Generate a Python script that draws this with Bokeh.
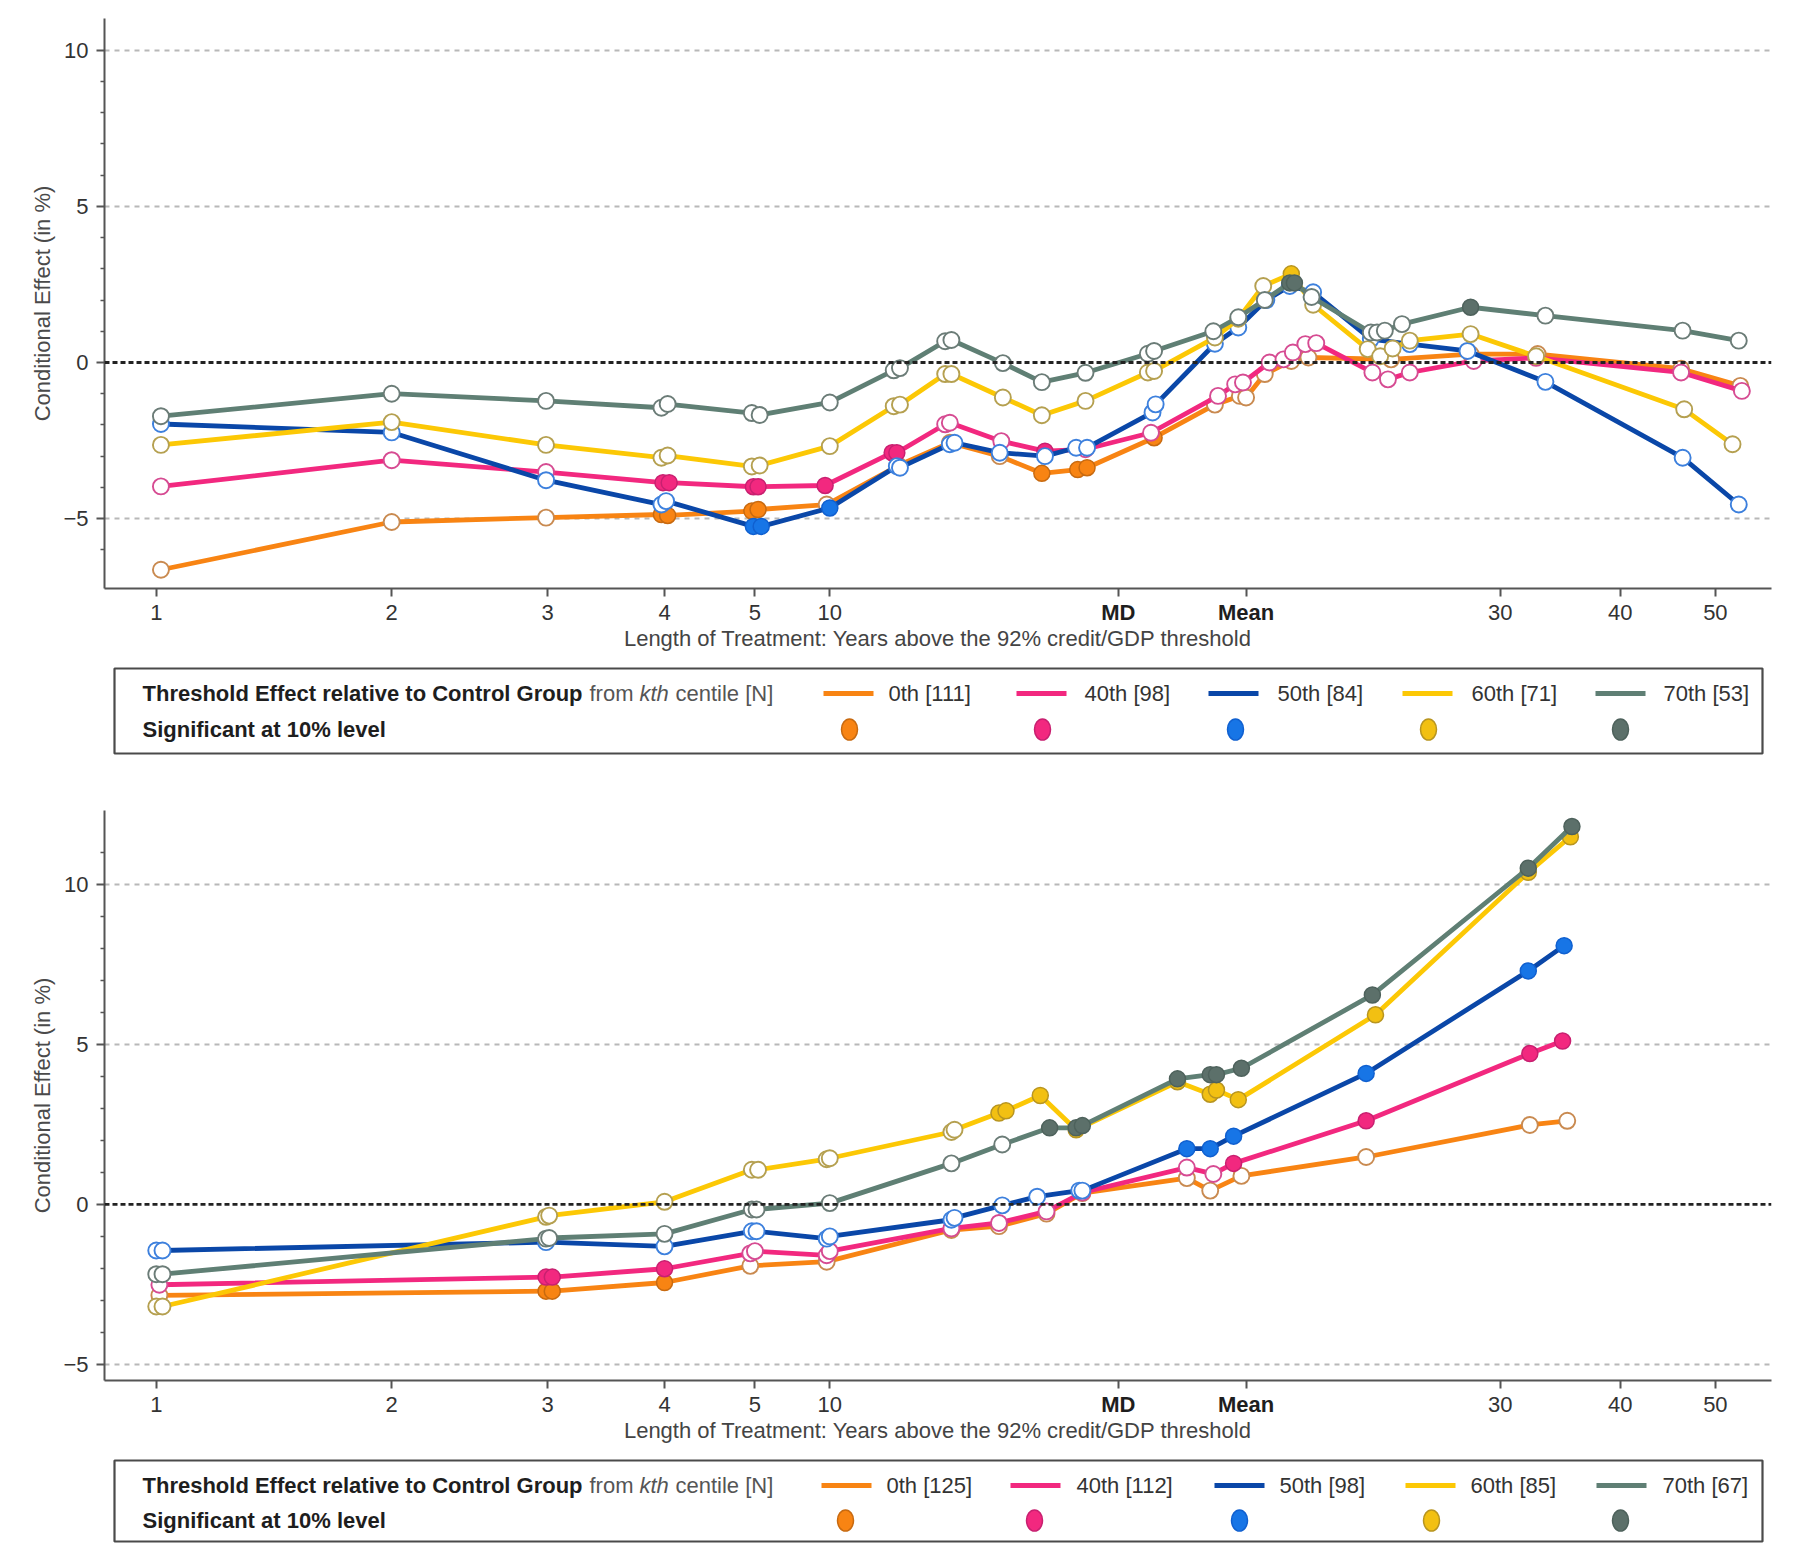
from bokeh.plotting import figure
from bokeh.models import Range1d, FixedTicker, Span
from bokeh.layouts import column
from bokeh.embed import file_html
from bokeh.resources import INLINE
from bokeh.core.properties import value

FONT = "Liberation Sans"

# ---------------- data ----------------
# x = position on the chart's own (non-linear) treatment-length axis, 0..100
TICK_POS = [0, 15.1, 25.1, 32.6, 38.4, 43.2, 61.7, 69.9, 86.2, 93.9, 100]
TICK_LABELS = ["1", "2", "3", "4", "5", "10", "MD", "Mean", "30", "40", "50"]
BOLD_TICKS = ["MD", "Mean"]
X_TITLE = "Length of Treatment: Years above the 92% credit/GDP threshold"
Y_TITLE = "Conditional Effect (in %)"

SERIES = ["0th", "40th", "50th", "60th", "70th"]
TOP_N = [111, 98, 84, 71, 53]
BOT_N = [125, 112, 98, 85, 67]

# ---- top panel ----
T_X_0 = [0.3, 15.1, 25.0, 32.4, 32.8, 38.2, 38.6, 43.0, 47.6, 50.9, 54.1, 56.8, 59.1, 59.7, 64.0,
         67.9, 69.5, 69.9, 71.1, 72.8, 73.9, 79.2, 84.3, 88.6, 97.8, 101.6]
T_Y_0 = [-6.64, -5.11, -4.97, -4.87, -4.90, -4.76, -4.71, -4.55, -3.30, -2.57, -3.00, -3.55, -3.43, -3.37, -2.41,
         -1.35, -1.07, -1.12, -0.37, 0.05, 0.16, 0.10, 0.27, 0.27, -0.20, -0.75]
T_S_0 = [0, 0, 0, 1, 1, 1, 1, 0, 0, 0, 0, 1, 1, 1, 1, 0, 0, 0, 0, 0, 0, 0, 0, 0, 0, 0]

T_X_40 = [0.3, 15.1, 25.0, 32.5, 32.9, 38.3, 38.6, 42.9, 47.2, 47.5, 50.6, 50.9, 54.2, 57.0, 59.6, 63.8,
          68.1, 69.2, 69.7, 71.4, 72.3, 72.9, 73.7, 74.4, 78.0, 79.0, 80.4, 84.5, 88.5, 97.8, 101.7]
T_Y_40 = [-3.97, -3.13, -3.51, -3.85, -3.85, -3.98, -3.98, -3.94, -2.89, -2.89, -1.98, -1.93, -2.52, -2.84, -2.78, -2.25,
          -1.07, -0.70, -0.64, 0.00, 0.10, 0.32, 0.59, 0.62, -0.32, -0.54, -0.32, 0.05, 0.15, -0.32, -0.91]
T_S_40 = [0, 0, 0, 1, 1, 1, 1, 1, 1, 1, 0, 0, 0, 1, 0, 0,
          0, 0, 0, 0, 0, 0, 0, 0, 0, 0, 0, 0, 0, 0, 0]

T_X_50 = [0.3, 15.1, 25.0, 32.4, 32.7, 38.3, 38.8, 43.2, 47.5, 47.7, 50.9, 51.2, 54.1, 57.0, 59.0, 59.7, 63.9, 64.1,
          67.9, 69.4, 71.2, 72.7, 74.2, 77.9, 80.4, 84.1, 89.1, 97.9, 101.5]
T_Y_50 = [-1.97, -2.24, -3.77, -4.55, -4.44, -5.25, -5.25, -4.66, -3.32, -3.37, -2.62, -2.57, -2.89, -3.00, -2.73, -2.73,
          -1.60, -1.34, 0.60, 1.12, 2.00, 2.45, 2.25, 0.75, 0.59, 0.37, -0.62, -3.05, -4.55]
T_S_50 = [0, 0, 0, 0, 0, 1, 1, 1, 0, 0, 0, 0, 0, 0, 0, 0, 0, 0,
          0, 0, 0, 0, 0, 0, 0, 0, 0, 0, 0]

T_X_60 = [0.3, 15.1, 25.0, 32.4, 32.8, 38.2, 38.7, 43.2, 47.3, 47.7, 50.6, 51.0, 54.3, 56.8, 59.6, 63.6, 64.0,
          67.9, 69.4, 71.0, 72.8, 74.2, 77.7, 78.5, 79.3, 80.4, 84.3, 88.5, 98.0, 101.1]
T_Y_60 = [-2.64, -1.91, -2.64, -3.05, -2.98, -3.33, -3.30, -2.68, -1.40, -1.35, -0.37, -0.37, -1.12, -1.69, -1.23, -0.32, -0.27,
          0.80, 1.40, 2.45, 2.84, 1.85, 0.43, 0.20, 0.45, 0.70, 0.91, 0.20, -1.50, -2.62]
T_S_60 = [0, 0, 0, 0, 0, 0, 0, 0, 0, 0, 0, 0, 0, 0, 0, 0, 0,
          0, 0, 0, 1, 0, 0, 0, 0, 0, 0, 0, 0, 0]

T_X_70 = [0.3, 15.1, 25.0, 32.4, 32.8, 38.2, 38.7, 43.2, 47.3, 47.7, 50.6, 51.0, 54.3, 56.8, 59.6, 63.6, 64.0,
          67.8, 69.4, 71.1, 72.7, 73.0, 74.1, 77.9, 78.3, 78.8, 79.9, 84.3, 89.1, 97.9, 101.5]
T_Y_70 = [-1.72, -1.00, -1.23, -1.45, -1.33, -1.62, -1.68, -1.28, -0.25, -0.18, 0.68, 0.72, -0.02, -0.63, -0.33, 0.28, 0.37,
          1.00, 1.45, 2.00, 2.55, 2.55, 2.10, 0.96, 0.96, 1.02, 1.23, 1.77, 1.50, 1.02, 0.70]
T_S_70 = [0, 0, 0, 0, 0, 0, 0, 0, 0, 0, 0, 0, 0, 0, 0, 0, 0,
          0, 0, 0, 1, 1, 0, 0, 0, 0, 0, 1, 0, 0, 0]

# ---- bottom panel ----
B_X_0 = [0.2, 25.0, 25.4, 32.6, 38.1, 43.0, 51.0, 54.05, 57.1, 59.4, 66.1, 67.6, 69.6, 77.6, 88.1, 90.5]
B_Y_0 = [-2.84, -2.71, -2.71, -2.44, -1.92, -1.79, -0.80, -0.68, -0.29, 0.35, 0.82, 0.43, 0.89, 1.48, 2.48, 2.61]
B_S_0 = [0, 1, 1, 1, 0, 0, 0, 0, 0, 0, 0, 0, 0, 0, 0, 0]

B_X_40 = [0.2, 25.0, 25.4, 32.6, 38.1, 38.4, 43.0, 43.2, 51.0, 54.05, 57.1, 59.4, 66.1, 67.8, 69.1, 77.6, 88.1, 90.2]
B_Y_40 = [-2.51, -2.27, -2.27, -2.01, -1.53, -1.46, -1.59, -1.46, -0.75, -0.58, -0.22, 0.37, 1.15, 0.95, 1.28, 2.61, 4.71, 5.10]
B_S_40 = [0, 1, 1, 1, 0, 0, 0, 0, 0, 0, 0, 0, 0, 0, 1, 1, 1, 1]

B_X_50 = [0.0, 0.4, 25.0, 32.6, 38.2, 38.5, 43.0, 43.2, 51.0, 51.2, 54.26, 56.5, 59.2, 59.4, 66.1, 67.6, 69.1, 77.6, 88.0, 90.3]
B_Y_50 = [-1.44, -1.44, -1.18, -1.31, -0.84, -0.84, -1.07, -1.00, -0.48, -0.42, -0.03, 0.24, 0.43, 0.43, 1.74, 1.74, 2.13, 4.09, 7.29, 8.08]
B_S_50 = [0, 0, 0, 0, 0, 0, 0, 0, 0, 0, 0, 0, 0, 0, 1, 1, 1, 1, 1, 1]

B_X_60 = [0.0, 0.4, 25.0, 25.2, 32.6, 38.2, 38.6, 43.0, 43.2, 51.0, 51.2, 54.05, 54.5, 56.7, 59.0, 65.5, 67.6, 68.0, 69.4, 78.2, 88.0, 90.7]
B_Y_60 = [-3.19, -3.19, -0.39, -0.35, 0.08, 1.08, 1.08, 1.41, 1.44, 2.26, 2.33, 2.85, 2.92, 3.40, 2.33, 3.83, 3.44, 3.57, 3.27, 5.92, 10.37, 11.48]
B_S_60 = [0, 0, 0, 0, 0, 0, 0, 0, 0, 0, 0, 1, 1, 1, 1, 1, 1, 1, 1, 1, 1, 1]

B_X_70 = [0.0, 0.4, 25.0, 25.2, 32.6, 38.2, 38.5, 43.2, 51.0, 54.26, 57.3, 59.0, 59.4, 65.5, 67.6, 68.0, 69.6, 78.0, 88.0, 90.8]
B_Y_70 = [-2.18, -2.18, -1.07, -1.05, -0.92, -0.16, -0.16, 0.04, 1.28, 1.87, 2.39, 2.39, 2.46, 3.92, 4.05, 4.05, 4.25, 6.54, 10.50, 11.80]
B_S_70 = [0, 0, 0, 0, 0, 0, 0, 0, 0, 0, 1, 1, 1, 1, 1, 1, 1, 1, 1, 1]

TOP = [(T_X_0, T_Y_0, T_S_0), (T_X_40, T_Y_40, T_S_40), (T_X_50, T_Y_50, T_S_50),
       (T_X_60, T_Y_60, T_S_60), (T_X_70, T_Y_70, T_S_70)]
BOT = [(B_X_0, B_Y_0, B_S_0), (B_X_40, B_Y_40, B_S_40), (B_X_50, B_Y_50, B_S_50),
       (B_X_60, B_Y_60, B_S_60), (B_X_70, B_Y_70, B_S_70)]

# ---------------- styles ----------------
LINE_COL = ["#F88413", "#F2287F", "#0A47A8", "#FCC805", "#5F7F74"]
FILL_COL = ["#F88413", "#F2287F", "#1775E6", "#F2C012", "#5C706A"]
FILL_EDGE = ["#C86A10", "#C82070", "#1060D0", "#B89520", "#4E625C"]
HOLLOW_EDGE = ["#C98A50", "#D64B92", "#3D80DD", "#B5A050", "#6B7C77"]

BL, BR = 104, 10          # left / right borders (px)
FW = 1667                 # frame width (px)
FH = 570                  # plot frame height (px)
X0, X1 = -3.32, 103.6     # x range on the axis scale


def px2u(px):
    """layout helper: horizontal pixel inside a figure -> axis-scale coordinate"""
    return X0 + (px - BL) / FW * (X1 - X0)


def make_panel(data, y0, y1, top_border, minor):
    p = figure(frame_width=FW, frame_height=FH, output_backend="svg", toolbar_location=None,
               x_range=Range1d(X0, X1), y_range=Range1d(y0, y1),
               min_border_left=BL, min_border_right=BR,
               min_border_top=top_border, min_border_bottom=10)
    p.outline_line_color = None
    p.background_fill_color = "white"
    p.border_fill_color = "white"
    p.xgrid.visible = False
    p.ygrid.ticker = FixedTicker(ticks=[-5, 5, 10])
    p.ygrid.grid_line_color = "#B8B8B8"
    p.ygrid.grid_line_dash = "5 5"
    p.ygrid.grid_line_width = 2

    # x axis: the ticks are drawn here, their labels go in the strip below
    xa = p.xaxis[0]
    xa.ticker = FixedTicker(ticks=TICK_POS)
    xa.major_label_text_font_size = "0px"
    xa.major_label_text_alpha = 0
    xa.major_label_text_color = None
    xa.major_label_standoff = 0
    ya = p.yaxis[0]
    ya.ticker = FixedTicker(ticks=[-5, 0, 5, 10], minor_ticks=minor)
    ya.axis_label = Y_TITLE
    for ax in (xa, ya):
        ax.axis_line_color = "#555555"
        ax.axis_line_width = 2
        ax.major_tick_line_color = "#555555"
        ax.major_tick_line_width = 2
        ax.major_tick_out = 8
        ax.major_tick_in = 0
        ax.minor_tick_line_color = "#555555"
        ax.minor_tick_line_width = 1.5
        ax.minor_tick_out = 4
        ax.minor_tick_in = 0
    ya.major_label_text_font = FONT
    ya.major_label_text_font_size = "22px"
    ya.major_label_text_color = "#333333"
    ya.axis_label_text_font = FONT
    ya.axis_label_text_font_size = "22px"
    ya.axis_label_text_font_style = "normal"
    ya.axis_label_text_color = "#4A4A4A"
    ya.major_label_standoff = 8
    ya.axis_label_standoff = 5

    p.add_layout(Span(location=0, dimension="width", line_color="#222222",
                      line_dash="5 3", line_width=2.8))

    for i, (xs, ys, sig) in enumerate(data):
        p.line(xs, ys, line_color=LINE_COL[i], line_width=4.8, line_join="round")
        hx = [x for x, s in zip(xs, sig) if not s]
        hy = [y for y, s in zip(ys, sig) if not s]
        fx = [x for x, s in zip(xs, sig) if s]
        fy = [y for y, s in zip(ys, sig) if s]
        p.scatter(hx, hy, size=16, marker="circle", fill_color="white",
                  line_color=HOLLOW_EDGE[i], line_width=1.9)
        p.scatter(fx, fy, size=16, marker="circle", fill_color=FILL_COL[i],
                  line_color=FILL_EDGE[i], line_width=1.5)
    return p


def make_under(ns, H, y_tick, y_title, box_b, box_t, r1, r2, sw_x, lab_x, dot_x):
    """tick labels, x-axis title and the legend box under a panel"""
    q = figure(frame_width=FW, frame_height=H, output_backend="svg", toolbar_location=None,
               x_range=Range1d(X0, X1), y_range=Range1d(0, H),
               x_axis_location=None, y_axis_location=None,
               min_border_left=BL, min_border_right=BR, min_border_top=0, min_border_bottom=0)
    q.grid.visible = False
    q.outline_line_color = None
    q.background_fill_color = "white"
    q.border_fill_color = "white"

    reg = [(t, l) for t, l in zip(TICK_POS, TICK_LABELS) if l not in BOLD_TICKS]
    bld = [(t, l) for t, l in zip(TICK_POS, TICK_LABELS) if l in BOLD_TICKS]
    q.text(x=[t for t, _ in reg], y=[y_tick] * len(reg), text=[l for _, l in reg],
           text_font=value(FONT), text_font_size="22px", text_align="center",
           text_baseline="middle", text_color="#333333")
    q.text(x=[t for t, _ in bld], y=[y_tick] * len(bld), text=[l for _, l in bld],
           text_font=value(FONT), text_font_size="22px", text_font_style="bold",
           text_align="center", text_baseline="middle", text_color="#1E1E1E")
    q.text(x=[(X0 + X1) / 2], y=[y_title], text=[X_TITLE], text_font=value(FONT),
           text_font_size="22px", text_align="center", text_baseline="middle",
           text_color="#444444")

    q.quad(left=[px2u(114)], right=[px2u(1762)], bottom=[box_b], top=[box_t],
           fill_color="white", line_color="#4A4A4A", line_width=2.2)
    q.text(x=[px2u(142)], y=[r1], text=["Threshold Effect relative to Control Group"],
           text_font=value(FONT), text_font_size="22px", text_font_style="bold",
           text_baseline="middle", text_color="#1E1E1E")
    q.text(x=[px2u(589)], y=[r1], text=["from"], text_font=value(FONT), text_font_size="22px",
           text_baseline="middle", text_color="#555555")
    q.text(x=[px2u(639)], y=[r1], text=["kth"], text_font=value(FONT), text_font_size="22px",
           text_font_style="italic", text_baseline="middle", text_color="#555555")
    q.text(x=[px2u(675)], y=[r1], text=["centile [N]"], text_font=value(FONT), text_font_size="22px",
           text_baseline="middle", text_color="#555555")
    q.text(x=[px2u(142)], y=[r2], text=["Significant at 10% level"],
           text_font=value(FONT), text_font_size="22px", text_font_style="bold",
           text_baseline="middle", text_color="#1E1E1E")
    for i in range(5):
        q.segment(x0=[px2u(sw_x[i])], y0=[r1], x1=[px2u(sw_x[i] + 50)], y1=[r1],
                  line_color=LINE_COL[i], line_width=5)
        q.text(x=[px2u(lab_x[i])], y=[r1], text=[f"{SERIES[i]} [{ns[i]}]"], text_font=value(FONT),
               text_font_size="22px", text_baseline="middle", text_color="#333333")
        q.ellipse(x=[px2u(dot_x[i])], y=[r2], width=16, height=21, width_units="screen",
                  height_units="screen", fill_color=FILL_COL[i],
                  line_color=FILL_EDGE[i], line_width=1.5)
    return q


top = make_panel(TOP, -7.24, 11.02, 18, [-6, -4, -3, -2, -1, 1, 2, 3, 4, 6, 7, 8, 9])
top_under = make_under(TOP_N, 164, 150, 124, 9, 94, 69, 33,
                       [823, 1016, 1208, 1402, 1595], [888, 1084, 1277, 1471, 1663],
                       [849, 1042, 1235, 1428, 1620])
bot = make_panel(BOT, -5.5, 12.3, 48, [-4, -3, -2, -1, 1, 2, 3, 4, 6, 7, 8, 9, 11])
bot_under = make_under(BOT_N, 156, 142, 116, 5, 86, 61, 26,
                       [821, 1010, 1214, 1405, 1596], [886, 1076, 1279, 1470, 1662],
                       [845, 1034, 1239, 1431, 1620])

layout = column(top, top_under, bot, bot_under, spacing=0)
open("out.html", "w").write(file_html(layout, INLINE))
